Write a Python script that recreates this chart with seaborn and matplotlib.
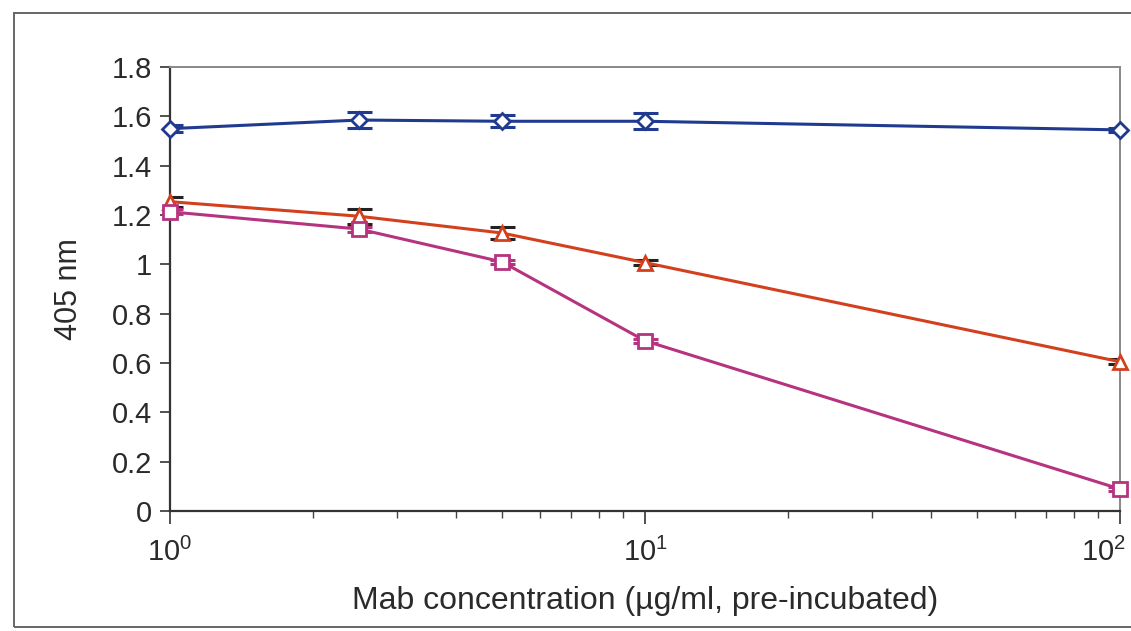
import matplotlib
matplotlib.use("Agg")
import matplotlib.pyplot as plt
import matplotlib.transforms as mtransforms
import seaborn as sns
import numpy as np
import pandas as pd
from matplotlib.patches import Rectangle
from matplotlib.ticker import LogLocator, FixedLocator

# Data
conc = [1, 2.5, 5, 10, 100]
blue_vals = [1.55, 1.585, 1.58, 1.58, 1.545]
blue_err = [0.015, 0.032, 0.025, 0.032, 0.008]
red_vals = [1.254, 1.195, 1.127, 1.007, 0.605]
red_err = [0.02, 0.03, 0.025, 0.01, 0.01]
mag_vals = [1.213, 1.143, 1.01, 0.69, 0.089]
mag_err = [0.01, 0.01, 0.008, 0.008, 0.008]
y_ticks = [0, 0.2, 0.4, 0.6, 0.8, 1, 1.2, 1.4, 1.6, 1.8]
y_ticklabels = ["0", "0.2", "0.4", "0.6", "0.8", "1", "1.2", "1.4", "1.6", "1.8"]
x_ticks = [1, 10, 100]
x_ticklabels = [r"$10^0$", r"$10^1$", r"$10^2$"]

sns.set_style("white")
plt.rcParams['font.family'] = ['Liberation Sans', 'DejaVu Sans']
plt.rcParams['mathtext.fontset'] = 'custom'
plt.rcParams['mathtext.rm'] = 'Liberation Sans'

fig = plt.figure(figsize=(11.31, 6.31), dpi=100)
ax = fig.add_axes([170/1131, (631-511)/631, (1120-170)/1131, (511-67)/631])

series = [
    ("blue", blue_vals, blue_err, "#1f3a8f", "D", "#1f3a8f", 8.5),
    ("red", red_vals, red_err, "#d2401e", "^", "#222222", 10),
    ("mag", mag_vals, mag_err, "#b5337f", "s", "#b5337f", 9.5),
]

for name, vals, errs, col, mk, ecol, ms in series:
    df = pd.DataFrame({"x": conc, "y": vals})
    ax.errorbar(conc, vals, yerr=errs, fmt="none", ecolor=ecol, elinewidth=1.8,
                capsize=9, capthick=2.2, zorder=2)
    sns.lineplot(data=df, x="x", y="y", ax=ax, color=col, linewidth=2.2,
                 marker=mk, markersize=ms, markerfacecolor="white",
                 markeredgecolor=col, markeredgewidth=2.0, zorder=3,
                 clip_on=False)

ax.set_xscale("log")
ax.set_xlim(1, 100)
ax.set_ylim(0, 1.8)
ax.set_yticks(y_ticks)
ax.set_yticklabels(y_ticklabels)
ax.xaxis.set_major_locator(FixedLocator(x_ticks))
ax.xaxis.set_minor_locator(LogLocator(base=10, subs=np.arange(2, 10)))
ax.set_xticklabels(x_ticklabels)

ax.tick_params(axis="y", which="major", direction="out", length=7, width=1.2,
               color="#333333", labelsize=21, labelcolor="#2a2a2a", pad=6, left=True)
ax.tick_params(axis="x", which="major", direction="out", length=9, width=1.2,
               color="#333333", labelsize=21, labelcolor="#2a2a2a", pad=10, bottom=True)
ax.tick_params(axis="x", which="minor", direction="out", length=5, width=1.0,
               color="#444444", bottom=True)

# last x tick label sits inside the figure, as in the reference
last = ax.get_xticklabels()[-1]
last.set_horizontalalignment("right")
last.set_transform(last.get_transform() + mtransforms.ScaledTranslation(6/100, 0, fig.dpi_scale_trans))

for side in ["left", "bottom"]:
    ax.spines[side].set_color("#333333")
    ax.spines[side].set_linewidth(1.6)
for side in ["top", "right"]:
    ax.spines[side].set_color("#888888")
    ax.spines[side].set_linewidth(1.4)

ax.set_xlabel("Mab concentration (µg/ml, pre-incubated)", fontsize=23, color="#2a2a2a", labelpad=14)
ax.set_ylabel("405 nm", fontsize=22, color="#2a2a2a", labelpad=20)
ax.grid(False)

# outer frame of the scanned figure
fig.patches.append(Rectangle((14/1131, (631-627)/631), 1.05, (627-13)/631,
                             transform=fig.transFigure, fill=False,
                             edgecolor="#666666", linewidth=1.4))

fig.savefig("out.png", dpi=100)
